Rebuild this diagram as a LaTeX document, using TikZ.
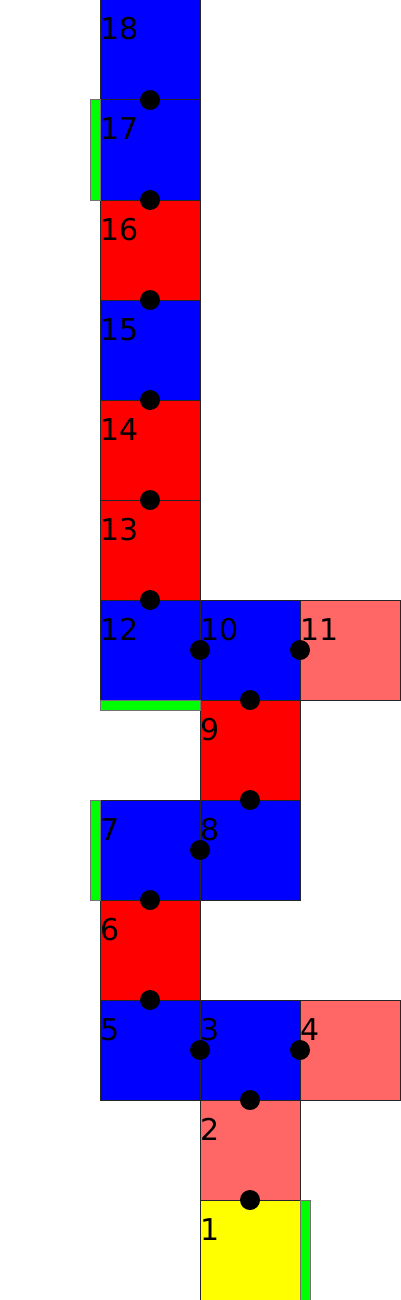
\documentclass[tikz,border=0pt]{standalone}
\usepackage{fontspec}
\setmainfont{DejaVu Sans}
\definecolor{cblue}{RGB}{0,0,255}
\definecolor{cred}{RGB}{255,0,0}
\definecolor{cpink}{RGB}{255,102,102}
\definecolor{cyellow}{RGB}{255,255,0}
\definecolor{cgreen}{RGB}{0,255,0}
\begin{document}
\begin{tikzpicture}[x=1pt,y=-1pt,
  sq/.style={draw=black!85, line width=1pt, minimum size=100pt, inner sep=0pt, outer sep=0pt, anchor=north west},
  gbar/.style={draw=black!55, line width=1pt, fill=cgreen, inner sep=0pt, outer sep=0pt, anchor=north west},
  vbar/.style={gbar, minimum width=10pt, minimum height=100pt},
  hbar/.style={gbar, minimum width=100pt, minimum height=10pt},
  dot/.style={circle, fill=black, minimum size=20pt, inner sep=0pt},
  lab/.style={anchor=base west, inner sep=0pt, font=\fontsize{30}{36}\selectfont}]
\useasboundingbox (0,0) rectangle (400,1300);
% squares
\node[sq,fill=cblue]   (s18) at (100,0) {};
\node[sq,fill=cblue]   (s17) at (100,100) {};
\node[sq,fill=cred]    (s16) at (100,200) {};
\node[sq,fill=cblue]   (s15) at (100,300) {};
\node[sq,fill=cred]    (s14) at (100,400) {};
\node[sq,fill=cred]    (s13) at (100,500) {};
\node[sq,fill=cblue]   (s12) at (100,600) {};
\node[sq,fill=cblue]   (s10) at (200,600) {};
\node[sq,fill=cpink]   (s11) at (300,600) {};
\node[sq,fill=cred]    (s9)  at (200,700) {};
\node[sq,fill=cblue]   (s7)  at (100,800) {};
\node[sq,fill=cblue]   (s8)  at (200,800) {};
\node[sq,fill=cred]    (s6)  at (100,900) {};
\node[sq,fill=cblue]   (s5)  at (100,1000) {};
\node[sq,fill=cblue]   (s3)  at (200,1000) {};
\node[sq,fill=cpink]   (s4)  at (300,1000) {};
\node[sq,fill=cpink]   (s2)  at (200,1100) {};
\node[sq,fill=cyellow] (s1)  at (200,1200) {};
% green bars
\node[vbar] (g17) at (90,100) {};
\node[hbar] (g12) at (100,700) {};
\node[vbar] (g7)  at (90,800) {};
\node[vbar] (g1)  at (300,1200) {};
% dots
\node[dot] (d1)  at (150,100) {};
\node[dot] (d2)  at (150,200) {};
\node[dot] (d3)  at (150,300) {};
\node[dot] (d4)  at (150,400) {};
\node[dot] (d5)  at (150,500) {};
\node[dot] (d6)  at (150,600) {};
\node[dot] (d7)  at (200,650) {};
\node[dot] (d8)  at (300,650) {};
\node[dot] (d9)  at (250,700) {};
\node[dot] (d10) at (250,800) {};
\node[dot] (d11) at (200,850) {};
\node[dot] (d12) at (150,900) {};
\node[dot] (d13) at (150,1000) {};
\node[dot] (d14) at (200,1050) {};
\node[dot] (d15) at (300,1050) {};
\node[dot] (d16) at (250,1100) {};
\node[dot] (d17) at (250,1200) {};
% labels
\node[lab] (l18) at (100,40) {18};
\node[lab] (l17) at (100,140) {17};
\node[lab] (l16) at (100,240) {16};
\node[lab] (l15) at (100,340) {15};
\node[lab] (l14) at (100,440) {14};
\node[lab] (l13) at (100,540) {13};
\node[lab] (l12) at (100,640) {12};
\node[lab] (l10) at (200,640) {10};
\node[lab] (l11) at (300,640) {11};
\node[lab] (l9)  at (200,740) {9};
\node[lab] (l7)  at (100,840) {7};
\node[lab] (l8)  at (200,840) {8};
\node[lab] (l6)  at (100,940) {6};
\node[lab] (l5)  at (100,1040) {5};
\node[lab] (l3)  at (200,1040) {3};
\node[lab] (l4)  at (300,1040) {4};
\node[lab] (l2)  at (200,1140) {2};
\node[lab] (l1)  at (200,1240) {1};
\end{tikzpicture}
\end{document}
